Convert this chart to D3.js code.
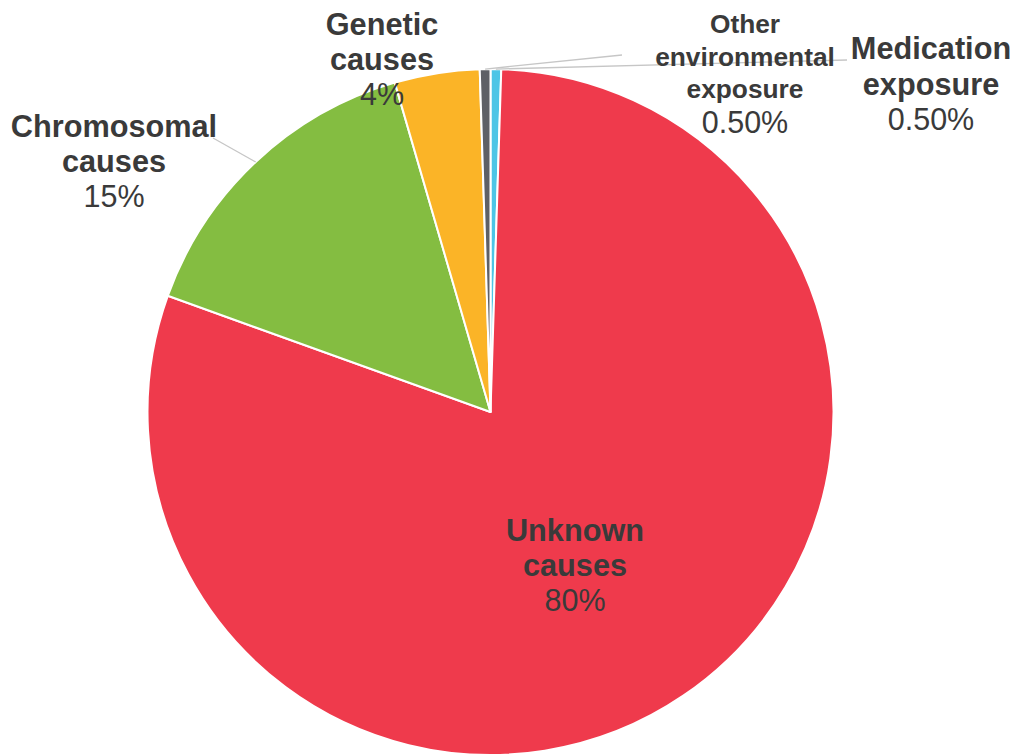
<!DOCTYPE html>
<html lang="en">
<head>
  <meta charset="utf-8">
  <script src="https://cdn.jsdelivr.net/npm/d3@7/dist/d3.min.js"></script>
  <title>Causes</title>
  <style>
    body { margin: 0; background: #fff; }
    #pie text {
      font-family: "Liberation Sans", Arial, sans-serif;
      fill: #3a3a3a;
      text-anchor: middle;
    }
    .lead { fill: none; stroke: #c6c6c6; stroke-width: 1.3px; }
  </style>
</head>
<body>
  <div id="pie"></div>
  <script>
    // Data, clockwise from 12 o'clock
    var categories = ['Medication exposure', 'Unknown causes', 'Chromosomal causes', 'Genetic causes', 'Other environmental exposure'];
    var values = [0.5, 80, 15, 4, 0.5];
    var valueLabels = ['0.50%', '80%', '15%', '4%', '0.50%'];
    var nameLines = [['Medication', 'exposure'], ['Unknown', 'causes'], ['Chromosomal', 'causes'], ['Genetic', 'causes'], ['Other', 'environmental', 'exposure']];
    var colors = ['#4dc5e6', '#ef3a4c', '#84bd41', '#fbb427', '#5e6066'];

    // Label layout (x centre, first baseline, line step, name size) and leader ends
    var labelPos = [
      { x: 931, y: 59, step: 35.5, size: 30.7, lead: [847, 60] },
      { x: 575, y: 541, step: 35, size: 30.7, lead: null },
      { x: 114, y: 137, step: 35, size: 30.7, lead: [213, 138] },
      { x: 382, y: 35, step: 35, size: 30.7, lead: null },
      { x: 745, y: 33, step: 32.5, size: 26.3, lead: [622, 55] }
    ];

    var width = 1015, height = 756;
    var cx = 490.5, cy = 412, radius = 343;

    var svg = d3.select('#pie').append('svg')
      .attr('width', width)
      .attr('height', height);

    var g = svg.append('g').attr('transform', 'translate(' + cx + ',' + cy + ')');

    var pie = d3.pie().sort(null).value(function(d) { return d; });
    var arcs = pie(values);

    var arc = d3.arc().innerRadius(0).outerRadius(radius);
    var edge = d3.arc().innerRadius(radius).outerRadius(radius);

    g.selectAll('path.slice')
      .data(arcs)
      .enter()
      .append('path')
      .attr('class', 'slice')
      .attr('d', arc)
      .attr('fill', function(d, i) { return colors[i]; })
      .attr('stroke', '#fff')
      .attr('stroke-width', 2)
      .attr('stroke-linejoin', 'round');

    // Leader lines from the slice's outer edge to the label
    svg.selectAll('line.lead')
      .data(arcs.filter(function(d, i) { return labelPos[i].lead; }))
      .enter()
      .append('line')
      .attr('class', 'lead')
      .attr('x1', function(d) { return cx + edge.centroid(d)[0]; })
      .attr('y1', function(d) { return cy + edge.centroid(d)[1]; })
      .attr('x2', function(d) { return labelPos[d.index].lead[0]; })
      .attr('y2', function(d) { return labelPos[d.index].lead[1]; });

    // Labels
    var labels = svg.selectAll('g.label')
      .data(categories)
      .enter()
      .append('g')
      .attr('class', 'label');

    labels.each(function(name, i) {
      var p = labelPos[i];
      var sel = d3.select(this);
      nameLines[i].forEach(function(line, j) {
        sel.append('text')
          .attr('x', p.x)
          .attr('y', p.y + j * p.step)
          .style('font-size', p.size + 'px')
          .style('font-weight', 'bold')
          .text(line);
      });
      sel.append('text')
        .attr('x', p.x)
        .attr('y', p.y + nameLines[i].length * p.step + (p.size < 30 ? 2 : 0))
        .style('font-size', '30.5px')
        .text(valueLabels[i]);
    });
  </script>
</body>
</html>
